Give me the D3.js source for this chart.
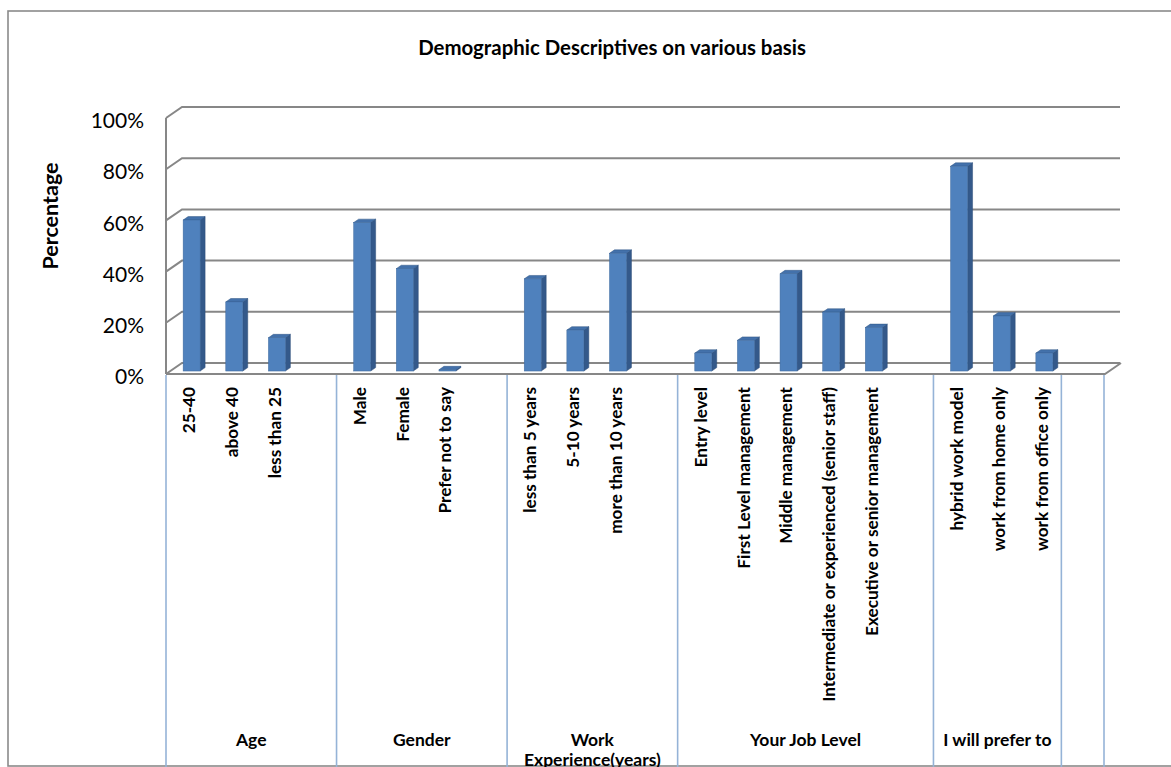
<!DOCTYPE html>
<html>
<head>
<meta charset="utf-8">
<script src="https://cdn.jsdelivr.net/npm/d3@7"></script>
<style>
  body { margin: 0; background: #fff; }
  svg text { font-family: Lato, "Open Sans", sans-serif; fill: #000; }
</style>
</head>
<body>
<div id="chart"></div>
<script>
'use strict';

// categorias (con huecos en blanco entre grupos, como en la hoja de Excel)
const categories = [
  '25-40', 'above 40', 'less than 25', '',
  'Male', 'Female', 'Prefer not to say', '',
  'less than 5 years', '5-10 years', 'more than 10 years', '',
  'Entry level', 'First Level management', 'Middle management',
  'Intermediate or experienced (senior staff)', 'Executive or senior management', '',
  'hybrid work model', 'work from home only', 'work from office only',
  ''
];
const values = [
  0.59, 0.27, 0.13, null,
  0.58, 0.40, 0.005, null,
  0.36, 0.16, 0.46, null,
  0.07, 0.12, 0.38, 0.23, 0.17, null,
  0.80, 0.215, 0.07,
  null
];
const groupNames = ['Age', 'Gender', 'Work Experience(years)', 'Your Job Level', 'I will prefer to', ''];
const groupSizes = [4, 4, 4, 6, 3, 1];
const yTicks = [0, 0.2, 0.4, 0.6, 0.8, 1];

const width = 1171;
const height = 767;
const left = 166, right = 1104;
const floorY = 374, topY = 118;
const depthX = 16, depthY = -11; // profundidad 3D
const d0 = 0.27, d1 = 0.58;      // posicion de las barras en la profundidad

const scaleX = d3.scaleBand()
  .domain(d3.range(categories.length))
  .range([left, right])
  .padding(0);

const scaleY = d3.scaleLinear()
  .domain([0, 1])
  .range([floorY, topY]);

const svg = d3.select('#chart')
  .append('svg')
  .attr('width', width)
  .attr('height', height);

// marco exterior
svg.append('rect')
  .attr('x', 8).attr('y', 11)
  .attr('width', 1300).attr('height', 755)
  .attr('fill', 'none')
  .attr('stroke', '#8a8a8a')
  .attr('stroke-width', 1.6);

// titulo
svg.append('text')
  .attr('x', 612).attr('y', 55)
  .attr('text-anchor', 'middle')
  .style('font-size', '20.4px')
  .style('font-weight', 'bold')
  .text('Demographic Descriptives on various basis');

// titulo eje Y
svg.append('text')
  .attr('transform', 'translate(58,216) rotate(-90)')
  .attr('text-anchor', 'middle')
  .style('font-size', '21.5px')
  .style('font-weight', 'bold')
  .text('Percentage');

// lineas de la rejilla (pared del fondo + pared izquierda)
const grid = svg.append('g').attr('class', 'grid');
grid.selectAll('polyline')
  .data(yTicks)
  .enter()
  .append('polyline')
  .attr('points', d => {
    const y = scaleY(d);
    return `${left},${y} ${left + depthX},${y + depthY} ${right + depthX},${y + depthY}`;
  })
  .attr('fill', 'none')
  .attr('stroke', '#878787')
  .attr('stroke-width', 2);

grid.append('line')
  .attr('x1', left).attr('x2', left)
  .attr('y1', scaleY(1)).attr('y2', scaleY(0))
  .attr('stroke', '#878787')
  .attr('stroke-width', 2);

// borde delantero del suelo
grid.append('polyline')
  .attr('points', `${left},${floorY} ${right + 1},${floorY} ${right + 1 + depthX},${floorY + depthY}`)
  .attr('fill', 'none')
  .attr('stroke', '#878787')
  .attr('stroke-width', 2);

// etiquetas eje Y
const yAxis = d3.axisLeft(scaleY)
  .tickValues(yTicks)
  .tickFormat(d3.format('.0%'))
  .tickSize(0)
  .tickPadding(0);

svg.append('g')
  .attr('class', 'axisY')
  .attr('transform', `translate(144, 3)`)
  .call(yAxis)
  .call(g => g.select('.domain').remove())
  .selectAll('text')
  .style('font-family', 'Lato, sans-serif')
  .style('font-size', '21px');

// barras 3D
const bars = categories.map((c, i) => ({ c, v: values[i], i })).filter(d => d.v !== null);
const sx = depthX * (d1 - d0), sy = depthY * (d1 - d0);
const barW = 17;

const group = svg.selectAll('.bar')
  .data(bars)
  .enter()
  .append('g')
  .attr('class', 'bar')
  .attr('transform', d => {
    const cx = scaleX(d.i) + scaleX.bandwidth() / 2 + depthX * d0;
    return `translate(${cx - barW / 2}, ${depthY * d0})`;
  });

// cara lateral
group.append('polygon')
  .attr('points', d => {
    const yb = scaleY(0), yt = scaleY(d.v);
    return `${barW},${yb} ${barW + sx},${yb + sy} ${barW + sx},${yt + sy} ${barW},${yt}`;
  })
  .attr('fill', '#34598a')
  .attr('stroke', '#2c4d78')
  .attr('stroke-width', 0.5);

// cara superior
group.append('polygon')
  .attr('points', d => {
    const yt = scaleY(d.v);
    return `0,${yt} ${barW},${yt} ${barW + sx},${yt + sy} ${sx},${yt + sy}`;
  })
  .attr('fill', '#4371ab')
  .attr('stroke', '#2f5582')
  .attr('stroke-width', 0.5);

// cara frontal
group.append('rect')
  .attr('x', 0)
  .attr('y', d => scaleY(d.v))
  .attr('width', barW)
  .attr('height', d => scaleY(0) - scaleY(d.v))
  .attr('fill', '#4f81bd')
  .attr('stroke', '#3f6a9e')
  .attr('stroke-width', 0.5);

// etiquetas de categoria (giradas)
svg.append('g')
  .selectAll('text')
  .data(categories.map((c, i) => ({ c, i })).filter(d => d.c !== ''))
  .enter()
  .append('text')
  .attr('transform', d => `translate(${scaleX(d.i) + scaleX.bandwidth() / 2 + 2}, 387) rotate(-90)`)
  .attr('text-anchor', 'end')
  .attr('dy', '0.35em')
  .style('font-size', '17.2px')
  .style('font-weight', 'bold')
  .text(d => d.c);

// separadores de grupo
const starts = [0];
groupSizes.forEach((n, k) => starts.push(starts[k] + n));
const edges = starts.map(s => s < categories.length ? scaleX(s) : right);

svg.append('g')
  .selectAll('line')
  .data(edges)
  .enter()
  .append('line')
  .attr('x1', d => d).attr('x2', d => d)
  .attr('y1', floorY + 1).attr('y2', height)
  .attr('stroke', '#95b3d7')
  .attr('stroke-width', 1.6);

// nombres de grupo
const gLabels = svg.append('g')
  .selectAll('text')
  .data(groupNames.map((g, k) => ({ g, x0: edges[k], x1: edges[k + 1] })))
  .enter()
  .append('text')
  .attr('x', d => (d.x0 + d.x1) / 2)
  .attr('y', 746)
  .attr('text-anchor', 'middle')
  .style('font-size', '17.5px')
  .style('font-weight', 'bold');

gLabels.each(function (d) {
  const el = d3.select(this);
  const words = d.g.split(' ');
  let line = [];
  let tspan = el.append('tspan').attr('x', (d.x0 + d.x1) / 2);
  words.forEach(w => {
    line.push(w);
    tspan.text(line.join(' '));
    if (tspan.node().getComputedTextLength() > d.x1 - d.x0 - 8 && line.length > 1) {
      line.pop();
      tspan.text(line.join(' '));
      line = [w];
      tspan = el.append('tspan')
        .attr('x', (d.x0 + d.x1) / 2)
        .attr('dy', '1.15em')
        .text(w);
    }
  });
});
</script>
</body>
</html>
